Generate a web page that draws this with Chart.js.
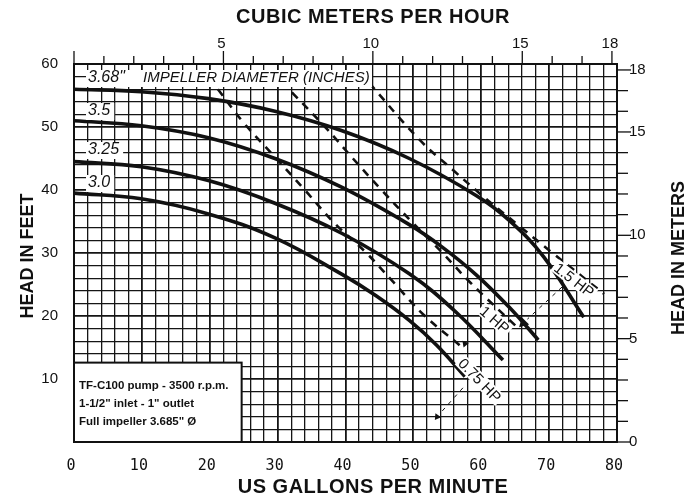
<!DOCTYPE html>
<html>
<head>
<meta charset="utf-8">
<script src="https://cdn.jsdelivr.net/npm/chart.js@4.4.0/dist/chart.umd.min.js"></script>
<style>
  body { margin: 0; background: #fff; }
</style>
</head>
<body>
<canvas id="pumpChart" width="698" height="498"></canvas>
<script>
// impeller curves: head (ft) against flow (US gpm)
const gpm368 = [0, 9.9, 19.8, 29.6, 39.5, 49.4, 59.3, 64.2, 69.2, 75.1];
const head368 = [56, 55.6, 54.5, 52.5, 49.4, 45, 39.1, 35.1, 29.4, 19.8];
const gpm35 = [0, 9.9, 19.8, 29.6, 39.5, 49.4, 54.3, 59.3, 64.2, 68.4];
const head35 = [51, 50.2, 48.3, 45, 40.4, 34.5, 30.9, 26.5, 21.3, 16.2];
const gpm325 = [0, 9.9, 19.8, 29.6, 39.5, 49.4, 56.3, 63.2];
const head325 = [44.5, 43.7, 41.5, 37.9, 33.1, 26.7, 20.6, 13];
const gpm30 = [0, 9.9, 19.8, 29.6, 39.5, 44.5, 49.4, 53.4, 57.6];
const head30 = [39.5, 38.6, 36.2, 32.4, 26.6, 23.2, 19.3, 15.4, 10.4];

// motor horsepower lines
const gpmHp15 = [43.5, 50.7, 55.8, 60.6, 65.7, 70.5, 78.1];
const headHp15 = [57, 48.2, 43.2, 38.7, 34.2, 30, 23.5];
const gpmHp1 = [32.1, 37, 41.1, 45.3, 50, 54.3, 58.3, 65.7];
const headHp1 = [55.5, 50, 45, 40, 34.7, 30, 25.4, 17.8];
const gpmHp075 = [21.2, 24.9, 29.8, 34, 38.4, 42.9, 47.2, 51.5, 57.1];
const headHp075 = [56, 50.8, 45, 40, 34.7, 30.2, 25.2, 20.2, 15.1];

// thin leaders from the hp labels and their arrow heads
const gpmLead1 = [71.9, 66.8];
const headLead1 = [24.6, 19.5];
const gpmLead2 = [57.3, 53.9];
const headLead2 = [8.6, 4.5];
const gpmArrows = [66.2, 57.6, 53.5];
const headArrows = [18.9, 15.6, 4];

// axis ticks
const gpmLabels = [0, 10, 20, 30, 40, 50, 60, 70, 80];
const feetLabels = [10, 20, 30, 40, 50, 60];
const cmhLabels = [5, 10, 15, 18];
const meterLabels = [0, 5, 10, 15, 18];

const GPM_TO_CMH = 0.22712;
const FT_TO_M = 0.3048;
const ink = '#111';

function pts(xs, ys) {
  return xs.map((x, i) => ({ x: x, y: ys[i] }));
}

function curve(label, xs, ys) {
  return {
    label: label, data: pts(xs, ys), showLine: true, borderColor: ink,
    borderWidth: 3.6, pointRadius: 0, tension: 0.4
  };
}

function hpLine(label, xs, ys) {
  return {
    label: label, data: pts(xs, ys), showLine: true, borderColor: ink,
    borderWidth: 2.6, borderDash: [8, 7], pointRadius: 0, tension: 0.4
  };
}

function leader(label, xs, ys) {
  return {
    label: label, data: pts(xs, ys), showLine: true, borderColor: ink,
    borderWidth: 1, borderDash: [4, 5], pointRadius: 0
  };
}

const annotations = {
  id: 'annotations',
  afterDatasetsDraw(chart) {
    const c = chart.ctx;
    const sx = chart.scales.x, sy = chart.scales.y;
    const left = chart.chartArea.left;
    c.save();

    // impeller diameter labels
    c.textBaseline = 'middle';
    const diam = [
      ['3.68"', 78, 372],
      ['3.5', 111, 0],
      ['3.25', 150, 0],
      ['3.0', 183, 0]
    ];
    c.font = 'italic 16px "Liberation Sans", Arial, sans-serif';
    diam.forEach(d => {
      const w = d[2] ? d[2] - left - 12 : c.measureText(d[0]).width + 6;
      c.fillStyle = '#fff';
      c.fillRect(left + 12, d[1] - 8, w, 17);
      c.fillStyle = ink;
      c.fillText(d[0], left + 14, d[1]);
    });
    c.font = 'italic 15px "Liberation Sans", Arial, sans-serif';
    c.fillText('IMPELLER DIAMETER (INCHES)', 143, 78);

    // hp labels along the dashed lines
    c.font = '15px "Liberation Sans", Arial, sans-serif';
    c.textAlign = 'center';
    const hp = [['1.5 HP', 73.7, 25.7, 38], ['1 HP', 62, 19.4, 41], ['0.75 HP', 59.8, 9.8, 46]];
    hp.forEach(h => {
      const w = c.measureText(h[0]).width;
      c.save();
      c.translate(sx.getPixelForValue(h[1]), sy.getPixelForValue(h[2]));
      c.rotate(h[3] * Math.PI / 180);
      c.fillStyle = '#fff';
      c.fillRect(-w / 2 - 2, -7, w + 4, 14);
      c.fillStyle = ink;
      c.fillText(h[0], 0, 1);
      c.restore();
    });

    // pump info box
    const bx0 = sx.getPixelForValue(0), bx1 = sx.getPixelForValue(24.7);
    const by0 = sy.getPixelForValue(12.6), by1 = sy.getPixelForValue(0);
    c.fillStyle = '#fff';
    c.fillRect(bx0, by0, bx1 - bx0, by1 - by0);
    c.strokeStyle = ink;
    c.lineWidth = 2;
    c.strokeRect(bx0, by0, bx1 - bx0, by1 - by0);
    c.fillStyle = ink;
    c.textAlign = 'left';
    c.font = 'bold 11.5px "Liberation Sans", Arial, sans-serif';
    c.fillText('TF-C100 pump - 3500 r.p.m.', bx0 + 5, by0 + 23);
    c.fillText('1-1/2" inlet - 1" outlet', bx0 + 5, by0 + 41);
    c.fillText('Full impeller 3.685" \u00d8', bx0 + 5, by0 + 59);
    c.restore();
  },
  afterDraw(chart) {
    const c = chart.ctx;
    const a = chart.chartArea;
    const top = chart.scales.x2, right = chart.scales.y2;
    c.save();
    c.strokeStyle = ink;
    c.lineWidth = 1.3;
    // outside ticks on the metric axes
    for (let v = 0; v <= 18; v++) {
      const major = v === 0 || cmhLabels.indexOf(v) >= 0;
      const x = top.getPixelForValue(v);
      c.beginPath();
      c.moveTo(x, a.top);
      c.lineTo(x, a.top - (major ? 13 : 8));
      c.stroke();
      const y = right.getPixelForValue(v);
      c.beginPath();
      c.moveTo(a.right, y);
      c.lineTo(a.right + (meterLabels.indexOf(v) >= 0 ? 14 : 11), y);
      c.stroke();
    }
    // axis titles
    c.fillStyle = ink;
    c.textAlign = 'center';
    c.textBaseline = 'middle';
    c.font = 'bold 20px "Liberation Sans", Arial, sans-serif';
    c.letterSpacing = '0.5px';
    c.fillText('CUBIC METERS PER HOUR', 373, 17);
    c.fillText('US GALLONS PER MINUTE', 373, 487);
    c.letterSpacing = '0px';
    c.font = 'bold 18px "Liberation Sans", Arial, sans-serif';
    c.save();
    c.translate(28, 256);
    c.rotate(-Math.PI / 2);
    c.fillText('HEAD IN FEET', 0, 0);
    c.restore();
    c.save();
    c.translate(679, 258);
    c.rotate(-Math.PI / 2);
    c.fillText('HEAD IN METERS', 0, 0);
    c.restore();
    c.restore();
  }
};

const gridWidth = ctx => (ctx.tick && ctx.tick.value % 10 === 0 ? 1.8 : 1.3);
const numFont = { family: '"Liberation Sans", Arial, sans-serif', size: 15 };

new Chart(document.getElementById('pumpChart'), {
  type: 'scatter',
  data: {
    datasets: [
      curve('3.68', gpm368, head368),
      curve('3.5', gpm35, head35),
      curve('3.25', gpm325, head325),
      curve('3.0', gpm30, head30),
      hpLine('1.5 HP', gpmHp15, headHp15),
      hpLine('1 HP', gpmHp1, headHp1),
      hpLine('0.75 HP', gpmHp075, headHp075),
      leader('lead1', gpmLead1, headLead1),
      leader('lead2', gpmLead2, headLead2),
      {
        label: 'arrows', data: pts(gpmArrows, headArrows), showLine: false,
        pointStyle: 'triangle', pointRadius: [6, 4, 4], pointRotation: [225, 200, 215],
        backgroundColor: ink, borderColor: ink, borderWidth: 0
      }
    ]
  },
  options: {
    responsive: false,
    animation: false,
    layout: { padding: 0 },
    plugins: { legend: { display: false }, tooltip: { enabled: false } },
    scales: {
      x: {
        type: 'linear', position: 'bottom', min: 0, max: 80,
        afterFit: s => { s.height = 56; },
        ticks: {
          stepSize: 2, autoSkip: false, maxRotation: 0, padding: 15, labelOffset: -3,
          color: ink, font: { family: '"DejaVu Sans Mono", monospace', size: 15 },
          callback: v => (gpmLabels.indexOf(v) >= 0 ? v : '')
        },
        grid: { color: '#151515', lineWidth: gridWidth, drawTicks: false },
        border: { color: ink, width: 2 }
      },
      y: {
        type: 'linear', position: 'left', min: 0, max: 60,
        afterFit: s => { s.width = 74; },
        ticks: {
          stepSize: 2, includeBounds: false, autoSkip: false, padding: 16, color: ink, font: numFont,
          callback: v => (feetLabels.indexOf(v) >= 0 ? v : '')
        },
        grid: { color: '#151515', lineWidth: gridWidth, drawTicks: false },
        border: { color: ink, width: 2 }
      },
      x2: {
        type: 'linear', position: 'top', min: 0, max: 80 * GPM_TO_CMH,
        afterFit: s => { s.height = 64; },
        ticks: {
          stepSize: 1, includeBounds: false, autoSkip: false, maxRotation: 0, padding: 11, labelOffset: -2,
          color: ink, font: numFont,
          callback: v => (cmhLabels.indexOf(v) >= 0 ? v : '')
        },
        grid: { display: false, drawTicks: false },
        border: { color: ink, width: 2 }
      },
      y2: {
        type: 'linear', position: 'right', min: 0, max: 60 * FT_TO_M,
        afterFit: s => { s.width = 81; },
        ticks: {
          stepSize: 1, includeBounds: false, autoSkip: false, padding: 12, color: ink, font: numFont,
          callback: v => (meterLabels.indexOf(v) >= 0 ? v : '')
        },
        grid: { display: false, drawTicks: false },
        border: { color: ink, width: 2 }
      }
    }
  },
  plugins: [annotations]
});
</script>
</body>
</html>
